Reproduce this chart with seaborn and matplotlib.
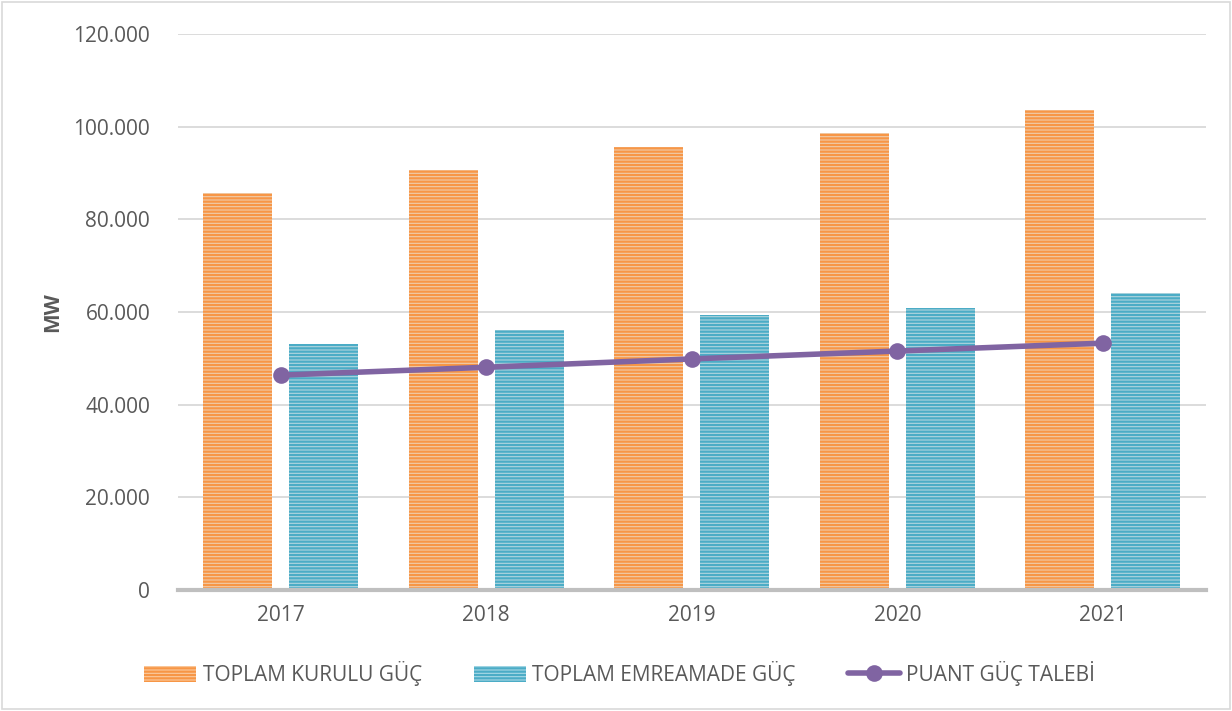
import matplotlib
matplotlib.use("Agg")
import matplotlib.pyplot as plt
from matplotlib.patches import Patch, Rectangle
from matplotlib.lines import Line2D
from matplotlib.ticker import FuncFormatter, MultipleLocator
import pandas as pd
import seaborn as sns

# Installed capacity, available capacity and peak demand in Turkey (MW)
years = ["2017", "2018", "2019", "2020", "2021"]
kurulu = [85700, 90600, 95600, 98600, 103600]
emreamade = [53100, 56100, 59400, 60900, 64100]
puant = [46400, 48100, 49900, 51600, 53300]
series_names = ["TOPLAM KURULU GÜÇ", "TOPLAM EMREAMADE GÜÇ", "PUANT GÜÇ TALEBİ"]

sns.set_theme(style="white")
plt.rcParams["font.family"] = ["Open Sans", "DejaVu Sans"]
plt.rcParams["hatch.linewidth"] = 1.6

orange, orange_lt = "#F79646", "#FBCBA0"
blue, blue_lt = "#4BACC6", "#A9D9E6"
purple = "#8064A2"
text_col = "#595959"

bars = pd.DataFrame({
    "year": years * 2,
    "value": kurulu + emreamade,
    "series": [series_names[0]] * len(years) + [series_names[1]] * len(years),
})
line = pd.DataFrame({"year": years, "value": puant})

fig = plt.figure(figsize=(12.32, 7.11), dpi=100)
ax = fig.add_axes([0.1445, 0.170, 0.834, 0.782])

sns.barplot(data=bars, x="year", y="value", hue="series", order=years,
            hue_order=series_names[:2], palette=[orange_lt, blue_lt],
            width=0.84, gap=0.2, legend=False, ax=ax, linewidth=0)

# seaborn draws the bars hue by hue: first the installed, then the available capacity
stripe_cols = [orange] * len(years) + [blue] * len(years)
for patch, col in zip(ax.patches, stripe_cols):
    patch.set_hatch("-----")
    patch.set_edgecolor(col)
    patch.set_linewidth(0)

sns.lineplot(data=line, x="year", y="value", color=purple, linewidth=4,
             marker="o", markersize=12, markeredgewidth=0, ax=ax, zorder=5)

ax.set_ylim(0, 120000)
ax.set_xlim(-0.5, 4.5)
ax.yaxis.set_major_locator(MultipleLocator(20000))
ax.yaxis.set_major_formatter(FuncFormatter(lambda v, p: f"{int(v):,}".replace(",", ".")))
ax.grid(axis="y", color="#D9D9D9", linewidth=1.3)
ax.set_axisbelow(True)
for s in ["left", "right", "top"]:
    ax.spines[s].set_visible(False)
ax.spines["bottom"].set_color("#BFBFBF")
ax.spines["bottom"].set_linewidth(3)
ax.tick_params(axis="y", length=0, pad=20, labelsize=15, labelcolor=text_col)
ax.tick_params(axis="x", length=0, pad=11, labelsize=15, labelcolor=text_col)
ax.set_xlabel("")
ax.set_ylabel("MW", fontsize=15, fontweight="bold", color=text_col)
ax.yaxis.set_label_coords(-0.112, 0.5)

handles = [
    Patch(facecolor=orange_lt, edgecolor=orange, hatch="-----", linewidth=0),
    Patch(facecolor=blue_lt, edgecolor=blue, hatch="-----", linewidth=0),
    Line2D([0], [0], color=purple, linewidth=4, marker="o", markersize=12, markeredgewidth=0),
]
fig.legend(handles, series_names, loc="center", bbox_to_anchor=(0.503, 0.053), ncol=3,
           frameon=False, fontsize=15, labelcolor=text_col, handlelength=2.5,
           handleheight=0.8, handletextpad=0.3, columnspacing=2.5)

fig.add_artist(Rectangle((0.002, 0.003), 0.996, 0.994, transform=fig.transFigure,
                         fill=False, edgecolor="#D9D9D9", linewidth=1.2))

fig.savefig("out.png", dpi=100)
